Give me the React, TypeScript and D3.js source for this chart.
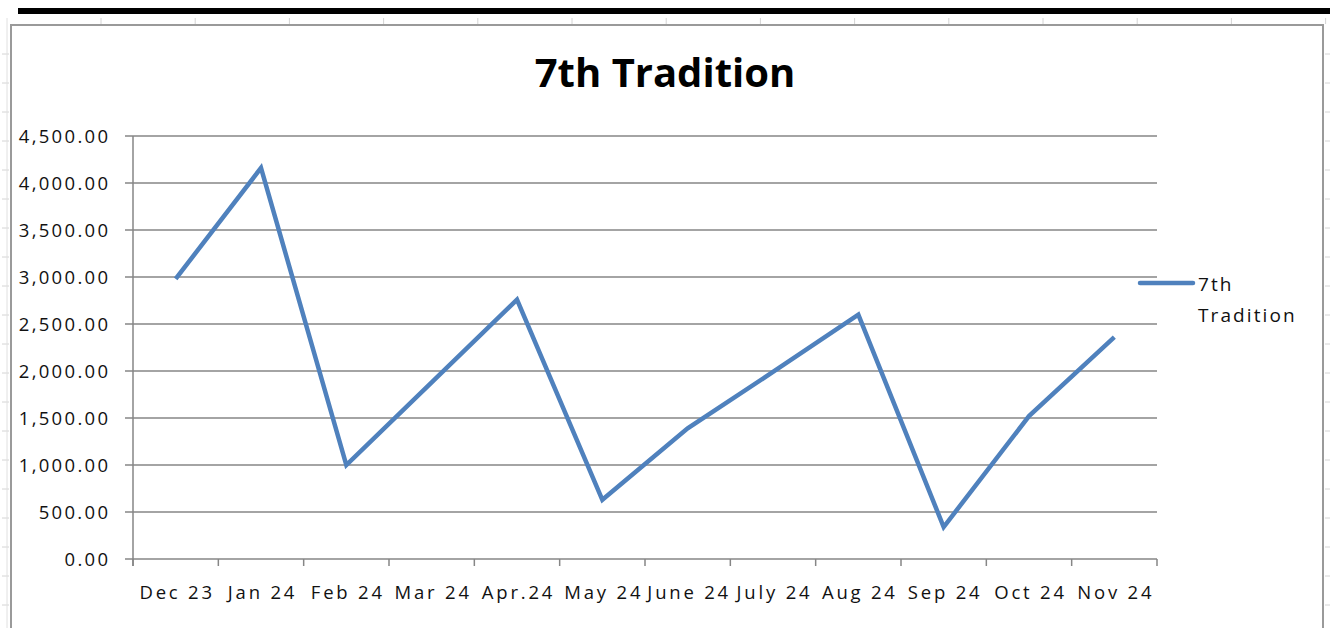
import React, { useEffect, useRef } from 'react';
import * as d3 from 'd3';

const months = ['Dec 23', 'Jan 24', 'Feb 24', 'Mar 24', 'Apr.24', 'May 24', 'June 24', 'July 24', 'Aug 24', 'Sep 24', 'Oct 24', 'Nov 24'];
const tradition = [2980, 4160, 1000, 1880, 2760, 630, 1390, 1990, 2600, 340, 1520, 2360];
const yTicks = [0, 500, 1000, 1500, 2000, 2500, 3000, 3500, 4000, 4500];

const W = 1330;
const H = 628;
const FONT = '"Open Sans", Lato, sans-serif';
const BLUE = '#4f81bd';
const GRID = '#868686';
const SP = 2.3; // wide glyph spacing of the screenshot's text

export default function App() {
  const svgRef = useRef<SVGSVGElement>(null);

  useEffect(() => {
    if (!svgRef.current) return;
    const svg = d3.select(svgRef.current);
    svg.selectAll('*').remove();

    // spreadsheet background bits
    svg.append('rect').attr('width', W).attr('height', H).attr('fill', '#fff');
    svg.append('rect').attr('x', 18).attr('y', 8).attr('width', W - 18).attr('height', 6).attr('fill', '#000');
    const topTicks = d3.range(101, W, 94.2);
    svg.append('g').selectAll('line').data(topTicks).join('line')
      .attr('x1', d => d).attr('x2', d => d).attr('y1', 18).attr('y2', 24)
      .attr('stroke', '#d4d4d4').attr('stroke-width', 1);
    const sideTicks = d3.range(54, H, 29);
    svg.append('g').selectAll('line').data(sideTicks).join('line')
      .attr('x1', 2).attr('x2', 9).attr('y1', d => d).attr('y2', d => d)
      .attr('stroke', '#d4d4d4');
    svg.append('g').selectAll('line').data(sideTicks).join('line')
      .attr('x1', 1325).attr('x2', W).attr('y1', d => d).attr('y2', d => d)
      .attr('stroke', '#d4d4d4');
    svg.append('line').attr('x1', 7).attr('x2', 7).attr('y1', 18).attr('y2', H).attr('stroke', '#e0e0e0');

    // chart frame
    svg.append('rect').attr('x', 11).attr('y', 25).attr('width', 1312).attr('height', H)
      .attr('fill', '#fff').attr('stroke', '#9a9a9a').attr('stroke-width', 2);

    const left = 133, right = 1157, top = 136, bottom = 559;
    const x = d3.scaleBand<string>().domain(months).range([left, right]);
    const y = d3.scaleLinear().domain([0, 4500]).range([bottom, top]);

    // gridlines
    svg.append('g').selectAll('line').data(yTicks).join('line')
      .attr('x1', left - 8).attr('x2', right).attr('y1', d => y(d)).attr('y2', d => y(d))
      .attr('stroke', GRID).attr('stroke-width', 1.5);

    // axes
    svg.append('line').attr('x1', left).attr('x2', left).attr('y1', top).attr('y2', bottom + 7)
      .attr('stroke', GRID).attr('stroke-width', 1.5);
    const xTicks = [...months.map(m => x(m) as number), right];
    svg.append('g').selectAll('line').data(xTicks).join('line')
      .attr('x1', d => d).attr('x2', d => d).attr('y1', bottom).attr('y2', bottom + 7)
      .attr('stroke', GRID).attr('stroke-width', 1.5);

    svg.append('g').selectAll('text').data(yTicks).join('text')
      .attr('x', 108 + SP).attr('y', d => y(d) + 6.5)
      .attr('text-anchor', 'end').attr('font-family', FONT).attr('font-size', 18.5)
      .attr('font-weight', 500).attr('letter-spacing', SP).attr('fill', '#111')
      .text(d => d3.format(',.2f')(d));

    svg.append('g').selectAll('text').data(months).join('text')
      .attr('x', d => (x(d) as number) + x.bandwidth() / 2 + 1.5).attr('y', 599)
      .attr('text-anchor', 'middle').attr('font-family', FONT).attr('font-size', 18.5)
      .attr('font-weight', 500).attr('letter-spacing', 2.8).attr('fill', '#111')
      .text(d => d);

    // series
    const line = d3.line<number>()
      .x((_, i) => (x(months[i]) as number) + x.bandwidth() / 2)
      .y(d => y(d));
    svg.append('path').datum(tradition).attr('d', line)
      .attr('fill', 'none').attr('stroke', BLUE).attr('stroke-width', 4.5)
      .attr('stroke-linejoin', 'miter').attr('stroke-linecap', 'butt');

    // title
    svg.append('text').attr('x', 665).attr('y', 87).attr('text-anchor', 'middle')
      .attr('font-family', FONT).attr('font-weight', 'bold').attr('font-size', 40).attr('fill', '#000')
      .text('7th Tradition');

    // legend
    svg.append('line').attr('x1', 1140).attr('x2', 1193).attr('y1', 283).attr('y2', 283)
      .attr('stroke', BLUE).attr('stroke-width', 4.5).attr('stroke-linecap', 'round');
    const lg = svg.append('text').attr('font-family', FONT).attr('font-size', 19)
      .attr('font-weight', 500).attr('letter-spacing', 2.1).attr('fill', '#111');
    lg.append('tspan').attr('x', 1198).attr('y', 291).text('7th');
    lg.append('tspan').attr('x', 1198).attr('y', 322).text('Tradition');
  }, []);

  return (
    <div style={{ position: 'absolute', left: 0, top: 0 }}>
      <svg ref={svgRef} width={W} height={H} style={{ display: 'block' }} />
    </div>
  );
}
